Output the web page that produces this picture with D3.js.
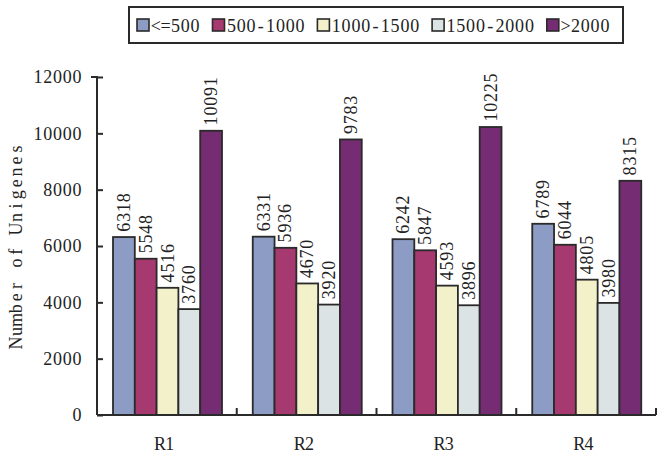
<!DOCTYPE html>
<html>
<head>
<meta charset="utf-8">
<script src="https://cdn.jsdelivr.net/npm/d3@7"></script>
<style>
  html, body { margin: 0; padding: 0; background: #fff; }
  svg { display: block; }
  text { font-family: "Liberation Serif", "DejaVu Serif", serif; fill: #222; }
</style>
</head>
<body>
<svg id="chart" width="664" height="462"></svg>
<script>
const categories = ["R1", "R2", "R3", "R4"];
const seriesNames = ["<=500", "500-1000", "1000-1500", "1500-2000", ">2000"];
const seriesColors = ["#8C9CC4", "#A63A70", "#F3F1CA", "#DCE3E4", "#762C72"];
const valuesLE500 = [6318, 6331, 6242, 6789];
const values500to1000 = [5548, 5936, 5847, 6044];
const values1000to1500 = [4516, 4670, 4593, 4805];
const values1500to2000 = [3760, 3920, 3896, 3980];
const valuesGT2000 = [10091, 9783, 10225, 8315];
const yTicks = [0, 2000, 4000, 6000, 8000, 10000, 12000];
const yLabel = "Number of Unigenes";

const seriesValues = [valuesLE500, values500to1000, values1000to1500, values1500to2000, valuesGT2000];

const FS = 18, CELL = 9.8;
const svg = d3.select("#chart");
const pLeft = 97, pRight = 656, pTop = 77, pBottom = 415;

// monospaced layout of a string: each char centred in a fixed-width cell
function monoFill(textSel, str, cell, anchor, x0) {
  const n = str.length, total = n * cell;
  const off = anchor === "start" ? 0 : anchor === "middle" ? -total / 2 : -total;
  textSel.text(null).attr("text-anchor", "middle");
  for (let i = 0; i < n; i++) {
    if (str[i] === " ") continue;
    textSel.append("tspan").attr("x", (x0 || 0) + off + i * cell + cell / 2).text(str[i]);
  }
  return textSel;
}

const x0 = d3.scaleBand().domain(categories).range([pLeft, pRight]).padding(0);
const x1 = d3.scaleBand().domain(d3.range(seriesNames.length)).range([16, 125]).padding(0);
const y = d3.scaleLinear().domain([0, 12000]).range([pBottom, pTop]);

// bars
const groups = svg.append("g").selectAll("g")
  .data(categories).join("g")
  .attr("transform", d => `translate(${x0(d)},0)`);

groups.each(function(cat, ci) {
  const g = d3.select(this);
  const data = seriesValues.map((arr, si) => ({si, v: arr[ci]}));
  g.selectAll("rect").data(data).join("rect")
    .attr("x", d => x1(d.si))
    .attr("y", d => y(d.v))
    .attr("width", x1.bandwidth())
    .attr("height", d => y(0) - y(d.v))
    .attr("fill", d => seriesColors[d.si])
    .attr("stroke", "#2a2a2a")
    .attr("stroke-width", 1.8);
  g.selectAll("text.val").data(data).join("text")
    .attr("class", "val")
    .attr("transform", d => `translate(${x1(d.si) + x1.bandwidth() / 2 + 6},${y(d.v) - 5}) rotate(-90)`)
    .attr("font-size", FS)
    .each(function(d) { monoFill(d3.select(this), String(d.v), CELL, "start", 0); });
});

// y axis
const yAxis = d3.axisLeft(y).tickValues(yTicks).tickSize(-6).tickPadding(15).tickFormat(d3.format("d"));
const gy = svg.append("g").attr("transform", `translate(${pLeft},0)`).call(yAxis);
gy.select(".domain").attr("stroke", "#2a2a2a").attr("stroke-width", 2)
  .attr("d", `M-6,${pTop}H0V${pBottom}`);
gy.selectAll(".tick line").attr("stroke", "#2a2a2a").attr("stroke-width", 2);
gy.selectAll(".tick text")
  .attr("font-size", FS).attr("font-family", "Liberation Serif, serif").attr("fill", "#222")
  .each(function() { const s = d3.select(this); monoFill(s, s.text(), CELL, "end", -15); });

// x axis
const xAxis = d3.axisBottom(x0).tickSize(0).tickPadding(22);
const gx = svg.append("g").attr("transform", `translate(0,${pBottom})`).call(xAxis);
gx.select(".domain").attr("stroke", "#2a2a2a").attr("stroke-width", 2)
  .attr("d", `M${pLeft},0H${pRight}`);
gx.selectAll(".tick text")
  .attr("font-size", FS).attr("font-family", "Liberation Serif, serif").attr("fill", "#222")
  .each(function() { const s = d3.select(this); monoFill(s, s.text(), CELL, "middle", -2); });
// category boundary ticks
const boundaries = categories.slice(1).map(c => x0(c)).concat([pRight]);
gx.selectAll("line.bnd").data(boundaries).join("line")
  .attr("class", "bnd")
  .attr("x1", d => d).attr("x2", d => d)
  .attr("y1", 0).attr("y2", -7)
  .attr("stroke", "#2a2a2a").attr("stroke-width", 2);

// y label
const yl = svg.append("text")
  .attr("transform", `translate(22,${(pTop + pBottom) / 2}) rotate(-90)`)
  .attr("font-size", FS);
monoFill(yl, yLabel, 11.4, "middle", 0);

// legend
const lg = svg.append("g");
lg.append("rect").attr("x", 129).attr("y", 7).attr("width", 494).attr("height", 36)
  .attr("fill", "#fff").attr("stroke", "#2a2a2a").attr("stroke-width", 2);
let lx = 137;
seriesNames.forEach((name, i) => {
  lg.append("rect").attr("x", lx).attr("y", 19).attr("width", 12).attr("height", 12)
    .attr("fill", seriesColors[i]).attr("stroke", "#2a2a2a").attr("stroke-width", 1.6);
  const t = lg.append("text").attr("y", 32).attr("font-size", FS);
  monoFill(t, name, CELL, "start", lx + 14);
  lx += 14 + name.length * CELL + 12.5;
});
</script>
</body>
</html>
